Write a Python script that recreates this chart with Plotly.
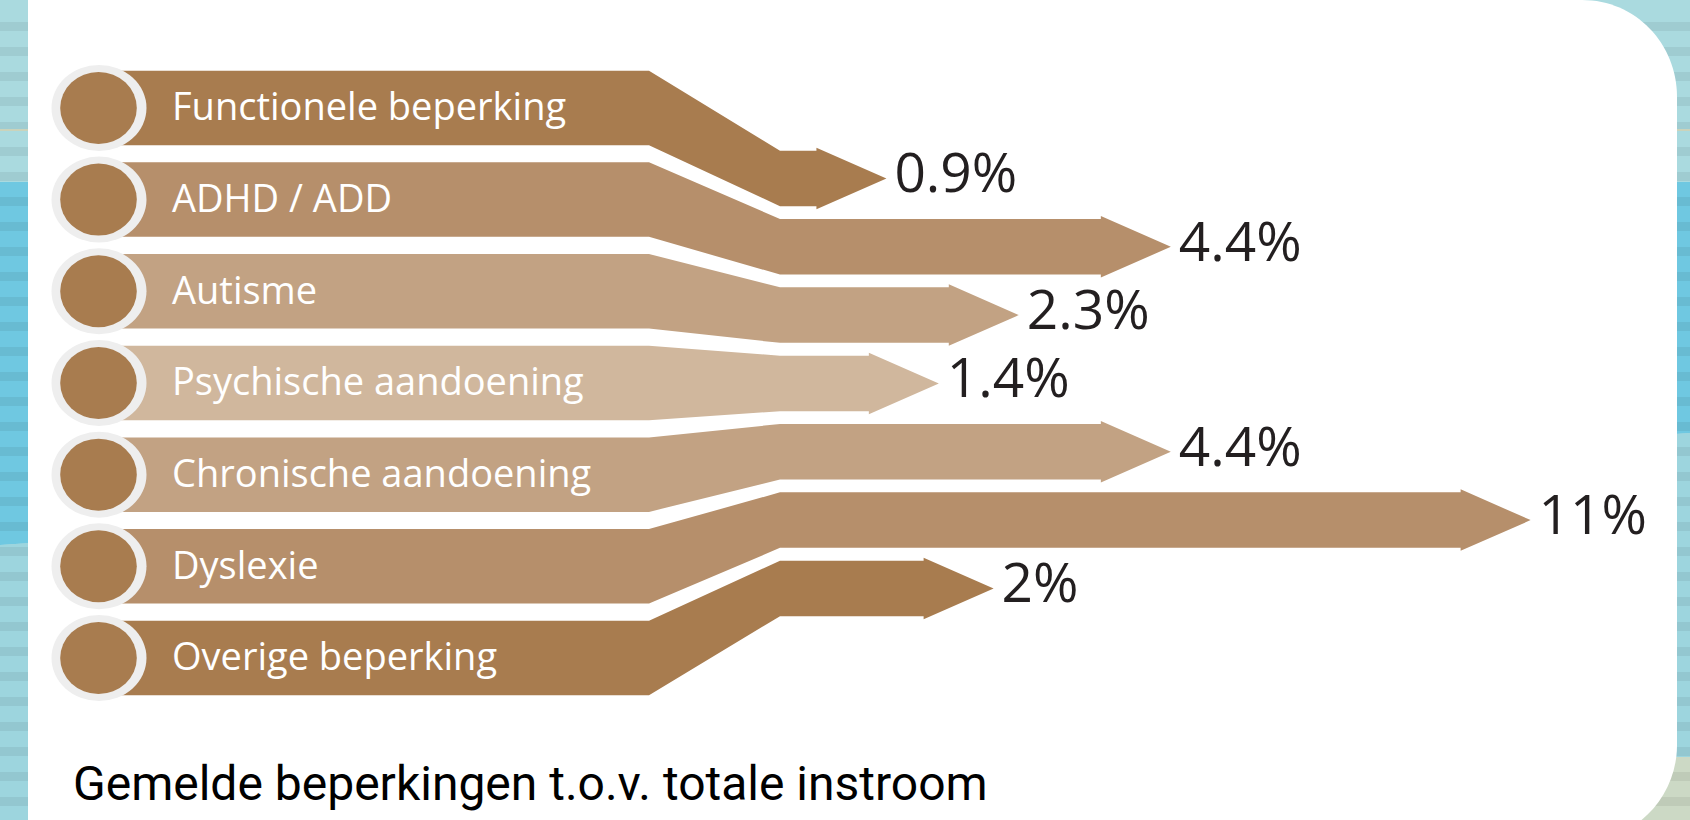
import plotly.graph_objects as go

# ---------------- data ----------------
categories = [
    "Functionele beperking",
    "ADHD / ADD",
    "Autisme",
    "Psychische aandoening",
    "Chronische aandoening",
    "Dyslexie",
    "Overige beperking",
]
values = [0.9, 4.4, 2.3, 1.4, 4.4, 11, 2]
shade_index = [0, 1, 2, 3, 2, 1, 0]
shades = ["#A87C4F", "#B68F6B", "#C2A283", "#D0B79D"]
title_text = "Gemelde beperkingen t.o.v. totale instroom"

# ---------------- layout constants ----------------
W, H = 1690, 820
LEFT_TOP0, LEFT_PITCH, LEFT_H = 70.7, 91.67, 74.5
RIGHT_TOP0, RIGHT_PITCH, RIGHT_H = 150.7, 68.33, 55.5
X_START, X_BEND0, X_BEND1 = 99, 649, 780
HEAD_LEN, HEAD_OVER = 70, 3
LABEL_X = 172


def tip_x(v):
    # value -> arrow tip position (power scale, as drawn in the original)
    return 728.9 + 168.7 * v ** 0.65


fig = go.Figure()

shapes = []
# background zones
shapes.append(dict(type="rect", x0=0, x1=W, y0=0, y1=182, fillcolor="#AADADF", line_width=0, layer="below"))
shapes.append(dict(type="path", path=f"M 0,182 L {W},182 L {W},433 L 0,545 Z",
                   fillcolor="#6FC8E1", line_width=0, layer="below"))
shapes.append(dict(type="path", path=f"M 0,545 L {W},433 L {W},{H} L 0,{H} Z",
                   fillcolor="#9DD5DE", line_width=0, layer="below"))
shapes.append(dict(type="path", path=f"M 1450,{H} L 1560,757 L {W},757 L {W},{H} Z",
                   fillcolor="#CCD9C5", line_width=0, layer="below"))
shapes.append(dict(type="rect", x0=0, x1=W, y0=129, y1=131, fillcolor="#D8E2C8", line_width=0, layer="below"))
# stripes
y = 22
while y < H:
    shapes.append(dict(type="rect", x0=0, x1=W, y0=y, y1=y + 9,
                       fillcolor="rgba(0,0,0,0.062)", line_width=0, layer="below"))
    y += 25
# white panel
k = 53.6
shapes.append(dict(
    type="path",
    path=(f"M 28,0 L 1582,0 C {1582 + k},0 1677,{97 - k} 1677,97 "
          f"L 1677,745 C 1677,{745 + k} {1580 + k},842 1580,842 L 28,842 Z"),
    fillcolor="#FFFFFF", line_width=0, layer="below"))

# bands
for i, (cat, v) in enumerate(zip(categories, values)):
    lt = LEFT_TOP0 + LEFT_PITCH * i
    lb = lt + LEFT_H
    rt = RIGHT_TOP0 + RIGHT_PITCH * i
    rb = rt + RIGHT_H
    rc = (rt + rb) / 2
    tip = tip_x(v)
    base = tip - HEAD_LEN
    xs = [X_START, X_BEND0, X_BEND1, base, base, tip, base, base, X_BEND1, X_BEND0, X_START]
    ys = [lt, lt, rt, rt, rt - HEAD_OVER, rc, rb + HEAD_OVER, rb, rb, lb, lb]
    fig.add_trace(go.Scatter(x=xs, y=ys, mode="lines", fill="toself",
                             fillcolor=shades[shade_index[i]], line=dict(width=0),
                             hoverinfo="skip", showlegend=False))
    # circle markers at the start
    cy = (lt + lb) / 2
    shapes.append(dict(type="circle", x0=99 - 47.5, x1=99 + 47.5, y0=cy - 43, y1=cy + 43,
                       fillcolor="#EEEEEE", line_width=0, layer="above"))
    shapes.append(dict(type="circle", x0=98.5 - 38.3, x1=98.5 + 38.3, y0=cy - 36, y1=cy + 36,
                       fillcolor=shades[0], line_width=0, layer="above"))

# category labels
fig.add_trace(go.Scatter(
    x=[LABEL_X] * len(categories),
    y=[LEFT_TOP0 + LEFT_PITCH * i + LEFT_H / 2 + 3 for i in range(len(categories))],
    text=categories, mode="text", textposition="middle right",
    textfont=dict(family="Open Sans", size=38, color="#FFFFFF"),
    hoverinfo="skip", showlegend=False))

# value labels
fig.add_trace(go.Scatter(
    x=[tip_x(v) + 8 for v in values],
    y=[RIGHT_TOP0 + RIGHT_PITCH * i + RIGHT_H / 2 for i in range(len(values))],
    text=[f"{v:g}%" for v in values], mode="text", textposition="middle right",
    textfont=dict(family="Open Sans", size=55, color="#231F20"),
    hoverinfo="skip", showlegend=False))

fig.add_annotation(x=71, y=783, xref="x", yref="y", text=title_text, showarrow=False,
                   xanchor="left", yanchor="middle",
                   font=dict(family="Roboto", size=48, color="#000000"))

fig.update_layout(
    width=W, height=H, margin=dict(l=0, r=0, t=0, b=0),
    paper_bgcolor="#AADADF", plot_bgcolor="rgba(0,0,0,0)",
    xaxis=dict(range=[0, W], visible=False, fixedrange=True),
    yaxis=dict(range=[H, 0], visible=False, fixedrange=True),
    shapes=shapes, showlegend=False,
)

fig.write_html("out.html", config={"displayModeBar": False},
               post_script="document.body.style.margin='0';document.body.style.overflow='hidden';")
